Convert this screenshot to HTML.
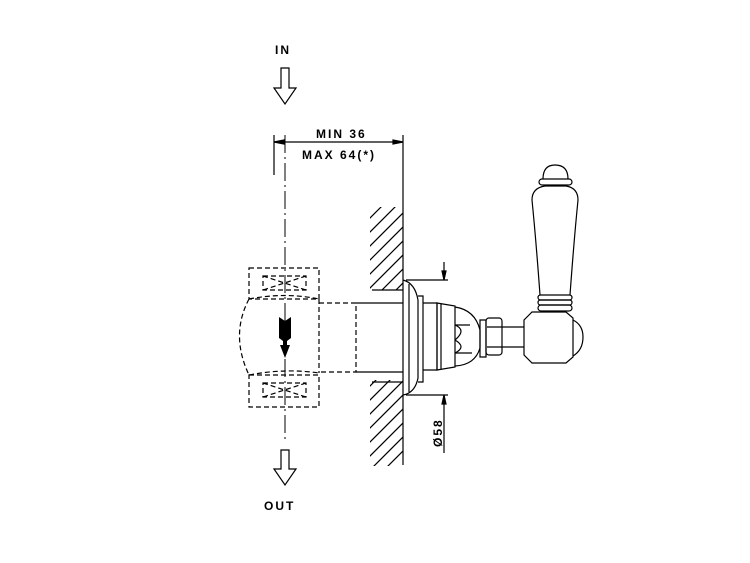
<!DOCTYPE html>
<html><head><style>html,body{margin:0;padding:0;background:#fff}svg{display:block}</style></head><body>
<svg width="750" height="563" viewBox="0 0 750 563" xmlns="http://www.w3.org/2000/svg" font-family="Liberation Sans, sans-serif">
<defs>
<clipPath id="h1"><rect x="370" y="207" width="33" height="83"/></clipPath>
<clipPath id="h2"><rect x="370" y="380" width="33" height="86"/></clipPath>
</defs>
<g fill="#000" font-weight="bold" font-size="12" letter-spacing="2">
<text x="275" y="54">IN</text>
<text x="264" y="510">OUT</text>
<text x="316" y="138" font-size="12">MIN 36</text>
<text x="302" y="159" font-size="12">MAX 64(*)</text>
<text transform="translate(442,447) rotate(-90)" font-size="12">Ø58</text>
</g>
<g fill="none" stroke="#000" stroke-width="1.2">
<path d="M281 68 H289 V88 H296 L285 104 L274 88 H281 Z"/>
<path d="M281 450 H289 V469 H296 L285 485 L274 469 H281 Z"/>
<path d="M285 135 V440" stroke-dasharray="18,4,2,4" stroke-width="1"/>
<path d="M274 135 V175 M403 135 V465 M274 142 H403"/>
<path d="M274 142 L284 140 V144 Z M403 142 L393 140 V144 Z" fill="#000"/>
<g clip-path="url(#h1)"><path d="M330 300 l100 -100 M330 286 l100 -100 M330 272 l100 -100 M330 258 l100 -100 M330 244 l100 -100 M330 314 l100 -100 M330 328 l100 -100 M330 342 l100 -100 M330 356 l100 -100"/></g>
<g clip-path="url(#h2)"><path d="M330 440 l100 -100 M330 454 l100 -100 M330 468 l100 -100 M330 482 l100 -100 M330 496 l100 -100 M330 510 l100 -100 M330 524 l100 -100 M330 426 l100 -100 M330 412 l100 -100"/></g>
<path d="M372 290 H403 M372 382 H403"/>
<g stroke-dasharray="5,3">
<rect x="249" y="268" width="70" height="31"/>
<rect x="263" y="276" width="43" height="14"/>
<path d="M263 276 L306 290 M306 276 L263 290"/>
<rect x="249" y="375" width="70" height="32"/>
<rect x="263" y="383" width="43" height="14"/>
<path d="M263 383 L306 397 M306 383 L263 397"/>
<path d="M249 299 Q230 335 249 375"/>
<path d="M249 299 Q285 292 319 299 M249 375 Q285 368 319 373"/>
<path d="M319 299 V373 M319 303 H356 V372 H319"/>
</g>
<path d="M356 303 H403 M356 372 H403"/>
<path d="M403 280 Q415 283 418 300 V378 Q415 393 403 395"/>
<path d="M409 284 V392"/>
<path d="M418 296 H423 V382 H418"/>
<path d="M423 303 H437 V370 H423"/>
<path d="M437 303 L455 306 V367 L437 370 Z M441 304 V369"/>
<path d="M455 307 Q475 310 480 330 V348 Q475 365 455 366"/>
<path d="M455 325 Q467 330 455 340 M455 340 Q467 347 455 353 M455 325 H470 M455 353 H472"/>
<path d="M480 320 H486 V357 H480 Z"/>
<rect x="486" y="318" width="16" height="37" rx="3"/>
<path d="M487 327 H502 M487 347 H502"/>
<path d="M502 327 H524 M502 347 H524"/>
<path d="M524 320 L532 312 H566 L573 318 V357 L566 363 H532 L524 355 Z"/>
<path d="M573 320 Q583 325 583 337 Q583 350 573 356"/>
<path d="M540 295 Q536 240 532 200 Q532 188 545 186 H566 Q578 188 578 200 Q574 240 570 295"/>
<rect x="538" y="295" width="34" height="5" rx="2.5"/>
<rect x="538" y="300" width="34" height="5" rx="2.5"/>
<rect x="538" y="305" width="34" height="6" rx="3"/>
<rect x="539" y="179" width="33" height="6" rx="3"/>
<path d="M543 179 Q543 165 555 165 Q568 165 568 179"/>
<path d="M406 280 H448 M406 395 H448 M444 262 V280 M444 395 V453"/>
<path d="M444 280 L442 271 H446 Z M444 395 L442 404 H446 Z" fill="#000"/>
</g>
<path d="M279 317 L285 321 L291 317 V338 L287 341 V345 L290 345 L285 358 L280 345 L283 345 V341 L279 338 Z" fill="#000"/>
</svg>
</body></html>
